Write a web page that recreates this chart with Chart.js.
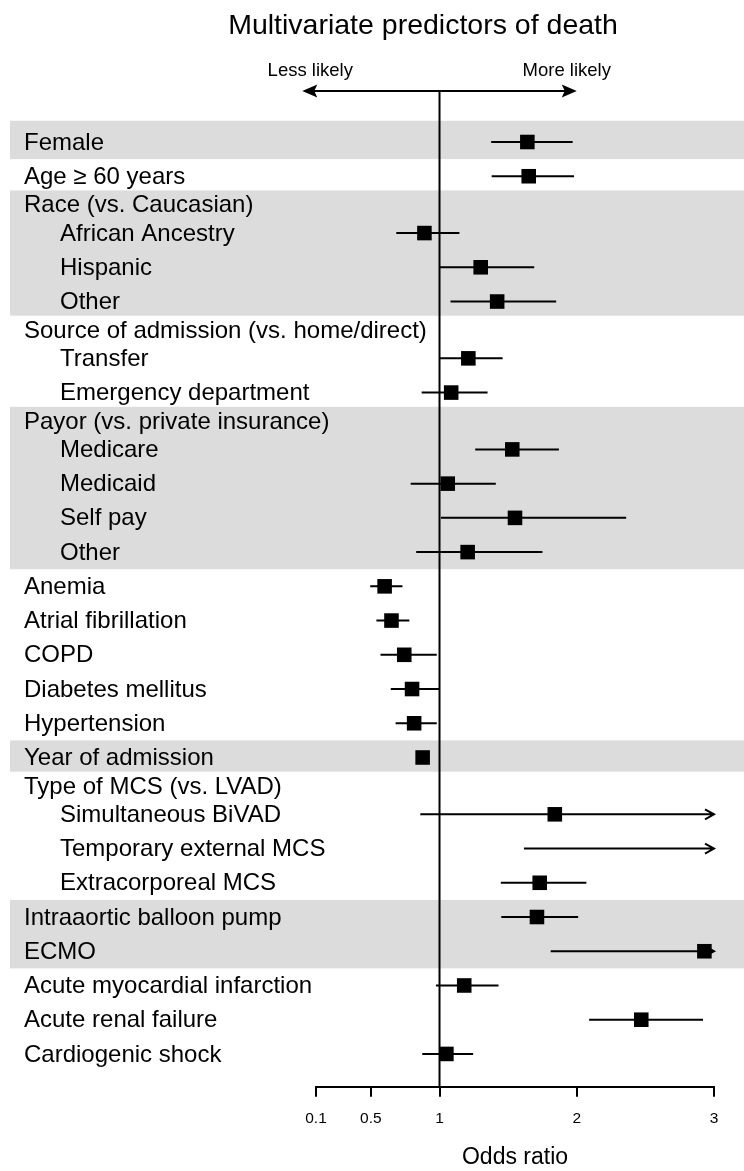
<!DOCTYPE html>
<html>
<head>
<meta charset="utf-8">
<script src="https://cdn.jsdelivr.net/npm/chart.js@4.4.0/dist/chart.umd.min.js"></script>
<style>
  html, body { margin: 0; padding: 0; background: #fff; }
</style>
</head>
<body>
<canvas id="myChart" width="744" height="1171"></canvas>
<script>
// rows of the forest plot, top to bottom
const labels = [
  'Female', 'Age \u2265 60 years',
  'Race (vs. Caucasian)', 'African Ancestry', 'Hispanic', 'Other',
  'Source of admission (vs. home/direct)', 'Transfer', 'Emergency department',
  'Payor (vs. private insurance)', 'Medicare', 'Medicaid', 'Self pay', 'Other',
  'Anemia', 'Atrial fibrillation', 'COPD', 'Diabetes mellitus', 'Hypertension',
  'Year of admission',
  'Type of MCS (vs. LVAD)', 'Simultaneous BiVAD', 'Temporary external MCS', 'Extracorporeal MCS',
  'Intraaortic balloon pump', 'ECMO',
  'Acute myocardial infarction', 'Acute renal failure', 'Cardiogenic shock'
];
// t = top level, h = group header, i = indented item
const kinds = ['t','t','h','i','i','i','h','i','i','h','i','i','i','i',
               't','t','t','t','t','t','h','i','i','i','t','t','t','t','t'];
// shading groups (even groups are grey)
const groups = [0,1,2,2,2,2,3,3,3,4,4,4,4,4,5,5,5,5,5,6,7,7,7,7,8,8,9,9,9];
// odds ratio and 95% CI, null = not shown / beyond the axis
const oddsRatio = [1.64, 1.65, null, 0.89, 1.30, 1.42, null, 1.21, 1.085, null, 1.53, 1.06, 1.55, 1.205,
                   0.60, 0.65, 0.743, 0.80, 0.815, 0.877, null, 1.84, null, 1.73, 1.71, 2.93, 1.18, 2.47, 1.05];
const ciLow = [1.376, 1.38, null, 0.685, 1.00, 1.08, null, 1.00, 0.87, null, 1.26, 0.79, 1.01, 0.83,
               0.495, 0.54, 0.57, 0.645, 0.68, 0.865, null, 0.86, 1.615, 1.447, 1.45, 1.81, 0.974, 2.09, 0.874];
const ciHigh = [1.97, 1.98, null, 1.145, 1.69, 1.85, null, 1.46, 1.35, null, 1.87, 1.41, 2.36, 1.75,
                0.73, 0.78, 0.98, 1.0, 0.98, 0.89, null, null, null, 2.07, 2.01, null, 1.43, 2.92, 1.245];
const tickVals = [0.1, 0.5, 1, 2, 3];

// row positions: headers sit a bit closer to their neighbours
const rowPos = [];
labels.forEach((l, i) => {
  if (i === 0) { rowPos.push(0); return; }
  const step = (kinds[i] === 'h' || kinds[i - 1] === 'h') ? 0.83 : 1;
  rowPos.push(rowPos[i - 1] + step);
});

const points = [];
oddsRatio.forEach((v, i) => { if (v !== null) points.push({ x: v, y: rowPos[i] }); });

const FONT = '"Liberation Sans", Arial, sans-serif';
Chart.defaults.font.family = FONT;
Chart.defaults.color = '#000';

const forestPlugin = {
  id: 'forest',
  beforeDatasetsDraw(chart) {
    const ctx = chart.ctx;
    const x = chart.scales.x;
    const y = chart.scales.y;
    const area = chart.chartArea;
    ctx.save();

    // grey bands
    ctx.fillStyle = '#dcdcdc';
    const nGroups = Math.max(...groups) + 1;
    for (let g = 0; g < nGroups; g += 2) {
      const a = groups.indexOf(g);
      const b = groups.lastIndexOf(g);
      const top = a === 0 ? rowPos[a] - 0.62 : (rowPos[a - 1] + rowPos[a]) / 2;
      const bot = b === labels.length - 1 ? rowPos[b] + 0.5 : (rowPos[b] + rowPos[b + 1]) / 2;
      const yt = y.getPixelForValue(top);
      const yb = y.getPixelForValue(bot);
      ctx.fillRect(10, yt, chart.width - 10, yb - yt);
    }

    // row labels
    ctx.fillStyle = '#000';
    ctx.font = '24px ' + FONT;
    ctx.textBaseline = 'middle';
    ctx.textAlign = 'left';
    labels.forEach((l, i) => {
      ctx.fillText(l, kinds[i] === 'i' ? 60 : 24, y.getPixelForValue(rowPos[i]) + 1);
    });

    // title
    ctx.font = '28.5px ' + FONT;
    ctx.textAlign = 'center';
    ctx.fillText('Multivariate predictors of death', 423, 26);

    // less / more likely arrows
    const ya = area.top;
    const xl = x.getPixelForValue(0);
    const xr = x.getPixelForValue(2);
    ctx.strokeStyle = '#000';
    ctx.lineWidth = 2;
    ctx.beginPath();
    ctx.moveTo(xl + 6, ya);
    ctx.lineTo(xr - 6, ya);
    ctx.stroke();
    ctx.beginPath();
    ctx.moveTo(xl, ya); ctx.lineTo(xl + 15, ya - 6.5); ctx.lineTo(xl + 12, ya); ctx.lineTo(xl + 15, ya + 6.5);
    ctx.closePath(); ctx.fill();
    ctx.beginPath();
    ctx.moveTo(xr, ya); ctx.lineTo(xr - 15, ya - 6.5); ctx.lineTo(xr - 12, ya); ctx.lineTo(xr - 15, ya + 6.5);
    ctx.closePath(); ctx.fill();
    ctx.font = '18.5px ' + FONT;
    ctx.fillText('Less likely', xl + 8, ya - 20);
    ctx.fillText('More likely', xr - 10, ya - 20);

    // reference line at OR = 1
    const x1 = x.getPixelForValue(1);
    ctx.beginPath();
    ctx.moveTo(x1, ya);
    ctx.lineTo(x1, area.bottom);
    ctx.stroke();

    // confidence intervals
    ctx.lineWidth = 2;
    labels.forEach((l, i) => {
      if (ciLow[i] === null) return;
      const yy = y.getPixelForValue(rowPos[i]);
      const xa = x.getPixelForValue(ciLow[i]);
      const open = ciHigh[i] === null;
      const xb = open ? x.getPixelForValue(x.max) : x.getPixelForValue(ciHigh[i]);
      ctx.beginPath();
      ctx.moveTo(xa, yy);
      ctx.lineTo(xb, yy);
      if (open) {
        ctx.moveTo(xb - 9, yy - 5);
        ctx.lineTo(xb, yy);
        ctx.lineTo(xb - 9, yy + 5);
      }
      ctx.stroke();
    });
    ctx.restore();
  }
};

const config = {
  type: 'scatter',
  data: {
    datasets: [{
      data: points,
      pointStyle: 'rect',
      pointRadius: 10.3,
      pointHoverRadius: 10.3,
      backgroundColor: '#000',
      borderColor: '#000',
      borderWidth: 0,
      clip: false
    }]
  },
  options: {
    responsive: false,
    animation: false,
    devicePixelRatio: 1,
    layout: { padding: { left: 316, right: 30, top: 91, bottom: 0 } },
    plugins: { legend: { display: false }, tooltip: { enabled: false } },
    scales: {
      x: {
        type: 'linear',
        position: 'bottom',
        min: 0.1,
        max: 3,
        afterBuildTicks: (axis) => { axis.ticks = tickVals.map(v => ({ value: v })); },
        ticks: {
          autoSkip: false,
          maxRotation: 0,
          padding: 13,
          font: { size: 15.5 },
          color: '#000',
          callback: (v) => String(v)
        },
        grid: { drawOnChartArea: false, drawTicks: true, tickLength: 10, color: '#000', lineWidth: 2 },
        border: { color: '#000', width: 2 },
        title: { display: true, text: 'Odds ratio', font: { size: 23 }, color: '#000', padding: { top: 2, bottom: 0 } }
      },
      y: {
        type: 'linear',
        display: false,
        reverse: true,
        min: -1.49,
        max: 27.6
      }
    }
  },
  plugins: [forestPlugin]
};

const chart = new Chart(document.getElementById('myChart'), config);
</script>
</body>
</html>
